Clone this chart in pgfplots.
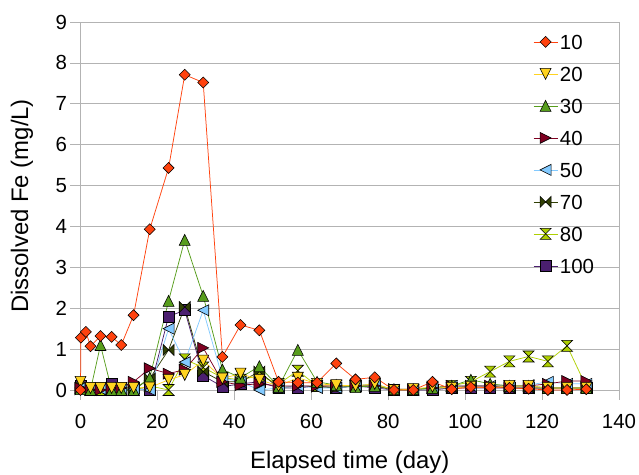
\documentclass[border=0pt]{standalone}
\usepackage{fontspec}
\setmainfont{Liberation Sans}
\usepackage{pgfplots}
\usepackage{pgfplotstable}
\pgfplotsset{compat=1.18}
\definecolor{gridc}{HTML}{B3B3B3}
\definecolor{c10}{HTML}{FF420E}
\definecolor{c20}{HTML}{FFD320}
\definecolor{c30}{HTML}{579D1C}
\definecolor{c40}{HTML}{7E0021}
\definecolor{c50}{HTML}{83CAFF}
\definecolor{c70}{HTML}{314004}
\definecolor{c80}{HTML}{AECF00}
\definecolor{c100}{HTML}{4B1F6F}
\pgfdeclareplotmark{ldiam}{\pgfpathmoveto{\pgfqpoint{0pt}{\pgfplotmarksize}}\pgfpathlineto{\pgfqpoint{\pgfplotmarksize}{0pt}}\pgfpathlineto{\pgfqpoint{0pt}{-\pgfplotmarksize}}\pgfpathlineto{\pgfqpoint{-\pgfplotmarksize}{0pt}}\pgfpathclose\pgfusepathqfillstroke}
\pgfdeclareplotmark{tdown}{\pgfpathmoveto{\pgfqpoint{-\pgfplotmarksize}{\pgfplotmarksize}}\pgfpathlineto{\pgfqpoint{\pgfplotmarksize}{\pgfplotmarksize}}\pgfpathlineto{\pgfqpoint{0pt}{-\pgfplotmarksize}}\pgfpathclose\pgfusepathqfillstroke}
\pgfdeclareplotmark{tup}{\pgfpathmoveto{\pgfqpoint{-\pgfplotmarksize}{-\pgfplotmarksize}}\pgfpathlineto{\pgfqpoint{\pgfplotmarksize}{-\pgfplotmarksize}}\pgfpathlineto{\pgfqpoint{0pt}{\pgfplotmarksize}}\pgfpathclose\pgfusepathqfillstroke}
\pgfdeclareplotmark{tright}{\pgfpathmoveto{\pgfqpoint{-\pgfplotmarksize}{-\pgfplotmarksize}}\pgfpathlineto{\pgfqpoint{-\pgfplotmarksize}{\pgfplotmarksize}}\pgfpathlineto{\pgfqpoint{\pgfplotmarksize}{0pt}}\pgfpathclose\pgfusepathqfillstroke}
\pgfdeclareplotmark{tleft}{\pgfpathmoveto{\pgfqpoint{\pgfplotmarksize}{-\pgfplotmarksize}}\pgfpathlineto{\pgfqpoint{\pgfplotmarksize}{\pgfplotmarksize}}\pgfpathlineto{\pgfqpoint{-\pgfplotmarksize}{0pt}}\pgfpathclose\pgfusepathqfillstroke}
\pgfdeclareplotmark{bowtie}{\pgfpathmoveto{\pgfqpoint{-\pgfplotmarksize}{\pgfplotmarksize}}\pgfpathlineto{\pgfqpoint{\pgfplotmarksize}{-\pgfplotmarksize}}\pgfpathlineto{\pgfqpoint{\pgfplotmarksize}{\pgfplotmarksize}}\pgfpathlineto{\pgfqpoint{-\pgfplotmarksize}{-\pgfplotmarksize}}\pgfpathclose\pgfusepathqfillstroke}
\pgfdeclareplotmark{hglass}{\pgfpathmoveto{\pgfqpoint{-\pgfplotmarksize}{\pgfplotmarksize}}\pgfpathlineto{\pgfqpoint{\pgfplotmarksize}{\pgfplotmarksize}}\pgfpathlineto{\pgfqpoint{-\pgfplotmarksize}{-\pgfplotmarksize}}\pgfpathlineto{\pgfqpoint{\pgfplotmarksize}{-\pgfplotmarksize}}\pgfpathclose\pgfusepathqfillstroke}
\pgfdeclareplotmark{lsq}{\pgfpathrectangle{\pgfqpoint{-\pgfplotmarksize}{-\pgfplotmarksize}}{\pgfqpoint{2\pgfplotmarksize}{2\pgfplotmarksize}}\pgfusepathqfillstroke}

\pgfplotstableread{
d s10
0 0
0.1 1.28
1.4 1.42
2.6 1.07
5.2 1.32
8.1 1.30
10.6 1.10
13.8 1.83
18 3.93
22.9 5.43
27.1 7.71
31.9 7.52
36.9 0.81
41.6 1.59
46.5 1.46
51.5 0.20
56.5 0.18
61.5 0.18
66.5 0.65
71.5 0.26
76.5 0.31
81.5 0.00
86.5 0.00
91.5 0.20
96.5 0.02
101.5 0.07
106.5 0.06
111.5 0.05
116.5 0.03
121.5 0.00
126.5 0.00
131.5 0.02
}\tabten

\pgfplotstableread{
d s20 s30 s40 s50 s70 s80 s100
0 0.20 0.02 0.05 0.05 0.02 0.05 0.10
2.6 0.05 0.00 0.00 0.02 0.00 0.00 0.05
5.2 0.05 1.10 0.00 0.02 0.00 0.00 0.05
8.1 0.05 0.00 0.05 0.02 0.05 0.00 0.15
10.6 0.05 0.00 0.05 0.02 0.00 0.00 0.05
13.8 0.05 0.00 0.20 0.02 0.00 0.00 0.05
18 0.06 0.30 0.53 0.00 0.28 0.10 0.00
22.9 0.25 2.18 0.40 1.50 0.98 0.00 1.80
27.1 0.37 3.67 0.50 0.68 2.03 0.75 1.95
31.9 0.72 2.30 1.03 1.95 0.45 0.55 0.35
36.9 0.28 0.50 0.20 0.30 0.20 0.30 0.08
41.6 0.40 0.30 0.12 0.20 0.20 0.25 0.15
46.5 0.25 0.58 0.15 0.00 0.45 0.35 0.20
51.5 0.10 0.08 0.10 0.05 0.05 0.15 0.05
56.5 0.30 0.98 0.10 0.10 0.10 0.47 0.05
61.5 0.15 0.20 0.10 0.05 0.08 0.10 0.10
66.5 0.12 0.12 0.10 0.05 0.05 0.10 0.05
71.5 0.10 0.07 0.10 0.10 0.10 0.10 0.10
76.5 0.15 0.10 0.10 0.15 0.10 0.15 0.05
81.5 0.00 0.02 0.02 0.00 0.00 0.00 0.00
86.5 0.02 0.02 0.02 0.00 0.00 0.00 0.00
91.5 0.08 0.05 0.05 0.05 0.05 0.05 0.00
96.5 0.05 0.10 0.10 0.10 0.05 0.10 0.05
101.5 0.08 0.25 0.10 0.10 0.10 0.20 0.05
106.5 0.05 0.15 0.10 0.10 0.10 0.45 0.05
111.5 0.10 0.10 0.10 0.10 0.05 0.70 0.05
116.5 0.10 0.10 0.10 0.12 0.05 0.82 0.05
121.5 0.05 0.05 0.15 0.20 0.05 0.70 0.05
126.5 0.05 0.05 0.22 0.15 0.05 1.08 0.05
131.5 0.05 0.05 0.22 0.15 0.05 0.08 0.05
}\tabrest

\begin{document}
\begin{tikzpicture}
\begin{axis}[
  scale only axis, width=538.5bp, height=368bp,
  xmin=0, xmax=140, ymin=0, ymax=9,
  xtick={0,20,...,140}, ytick={0,1,...,9},
  ymajorgrids, grid style={draw=gridc, line width=0.75pt},
  axis line style={draw=gridc, line width=0.75pt},
  tick style={draw=gridc, line width=0.75pt},
  tick align=outside, major tick length=10bp,
  xtick pos=bottom, ytick pos=left,
  ticklabel style={font=\fontsize{20.5}{24}\selectfont},
  xticklabel style={yshift=-11bp},
  /pgf/number format/assume math mode=true,
  xlabel={Elapsed time (day)}, ylabel={Dissolved Fe (mg/L)},
  label style={font=\fontsize{24}{28}\selectfont},
  xlabel style={at={(axis description cs:0.5,-0.1957)}, anchor=center},
  ylabel style={at={(axis description cs:-0.1086,0.5)}, anchor=center},
  clip=false,
  reverse legend,
  legend cell align=left,
  legend image code/.code={\draw[mark repeat=2,mark phase=2] plot coordinates {(0bp,0bp) (12bp,0bp) (24bp,0bp)};},
  legend style={at={(rel axis cs:0.8403,0.9723)}, anchor=north west, draw=none, fill=none, inner sep=0pt,
    font=\fontsize{20.5}{24}\selectfont, row sep=13bp,
    nodes={inner sep=2bp, text height=15bp, text depth=0bp}},
  every axis plot/.append style={line width=0.75pt, mark size=5.5bp},
]
\addplot[c100, mark=lsq, mark options={fill=c100, draw=black, line width=0.6pt}] table[x=d, y=s100] {\tabrest};
\addlegendentry{100}
\addplot[c80, mark=hglass, mark options={fill=c80, draw=black, line width=0.6pt}] table[x=d, y=s80] {\tabrest};
\addlegendentry{80}
\addplot[c70, mark=bowtie, mark options={fill=c70, draw=black, line width=0.6pt}] table[x=d, y=s70] {\tabrest};
\addlegendentry{70}
\addplot[c50, mark=tleft, mark options={fill=c50, draw=black, line width=0.6pt}] table[x=d, y=s50] {\tabrest};
\addlegendentry{50}
\addplot[c40, mark=tright, mark options={fill=c40, draw=black, line width=0.6pt}] table[x=d, y=s40] {\tabrest};
\addlegendentry{40}
\addplot[c30, mark=tup, mark options={fill=c30, draw=black, line width=0.6pt}] table[x=d, y=s30] {\tabrest};
\addlegendentry{30}
\addplot[c20, mark=tdown, mark options={fill=c20, draw=black, line width=0.6pt}] table[x=d, y=s20] {\tabrest};
\addlegendentry{20}
\addplot[c10, mark=ldiam, mark options={fill=c10, draw=black, line width=0.6pt}] table[x=d, y=s10] {\tabten};
\addlegendentry{10}
\end{axis}
\pgfresetboundingbox
\path (current axis.south west) ++(-80.5bp,-85bp) coordinate (bbl);
\path (current axis.north east) ++(20bp,22bp) coordinate (btr);
\path (bbl) rectangle (btr);
\end{tikzpicture}
\end{document}
